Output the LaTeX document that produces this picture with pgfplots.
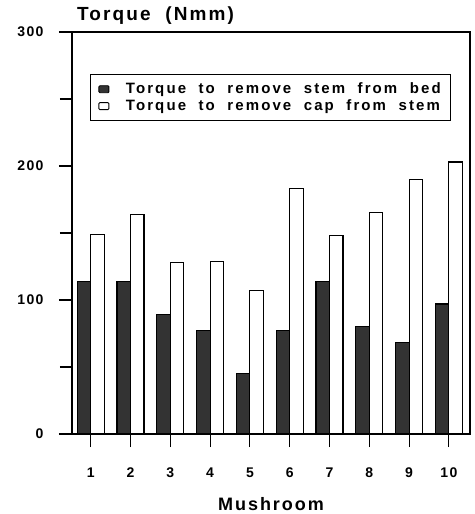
\documentclass[border=0pt]{standalone}
\usepackage{fontspec}
\setmainfont{Liberation Sans}[LetterSpace=10, WordSpace=2]
\newfontfamily\legfont{Liberation Sans}[LetterSpace=14, WordSpace=2]
\newfontfamily\titfont{Liberation Sans}[LetterSpace=11, WordSpace=2]
\usepackage{pgfplots}
\pgfplotsset{compat=1.18}
\definecolor{darkbar}{HTML}{333333}
\begin{document}
\begin{tikzpicture}
\useasboundingbox (-72bp,-80bp) rectangle (403bp,434bp);
\begin{axis}[
  scale only axis, width=398bp, height=402bp,
  clip=false,
  ymin=0, ymax=300, xmin=0.53, xmax=10.53,
  ybar=0pt, bar width=13.5bp,
  ytick={0,100,200,300}, minor ytick={50,150,250},
  xtick={1,...,10},
  tick align=outside, xtick pos=lower, ytick pos=left,
  major tick length=13bp, minor tick length=12bp,
  tick style={black, line width=1.1bp},
  axis line style={line width=1.1bp},
  /pgf/number format/assume math mode=true,
  ticklabel style={font=\bfseries\fontsize{14bp}{15bp}\selectfont},
  yticklabel style={xshift=-12bp},
  xticklabel style={yshift=-17bp},
  xlabel={Mushroom},
  xlabel style={font=\titfont\bfseries\fontsize{18bp}{20bp}\selectfont, at={(axis description cs:0.5,0)}, anchor=base, yshift=-76bp},
  legend style={at={(rel axis cs:0.045,0.8955)}, anchor=north west, draw=black, line width=1.1bp,
    font=\legfont\bfseries\fontsize{15bp}{16bp}\selectfont, row sep=0.5bp, inner xsep=8bp, inner ysep=6.5bp},
  legend cell align=left,
  legend image code/.code={\path[draw=none,fill=none] (0bp,0bp) -- (25bp,0bp); \draw[#1, line width=0.9bp, rounded corners=1bp] (0bp,-3.5bp) rectangle (10bp,3.5bp);},
]
\addplot[draw=black, fill=darkbar, line width=1.1bp] coordinates {
 (1,114) (2,114) (3,89) (4,77) (5,45) (6,77) (7,114) (8,80) (9,68) (10,97)};
\addplot[draw=black, fill=white, line width=1.1bp] coordinates {
 (1,149) (2,164) (3,128) (4,129) (5,107) (6,183) (7,148) (8,165) (9,190) (10,203)};
\legend{Torque to remove stem from bed, Torque to remove cap from stem}
\node[anchor=base west, font=\titfont\bfseries\fontsize{19bp}{20bp}\selectfont, inner sep=0pt] at (rel axis cs:0,1) [xshift=5bp, yshift=11bp] {Torque (Nmm)};
\end{axis}
\end{tikzpicture}
\end{document}
